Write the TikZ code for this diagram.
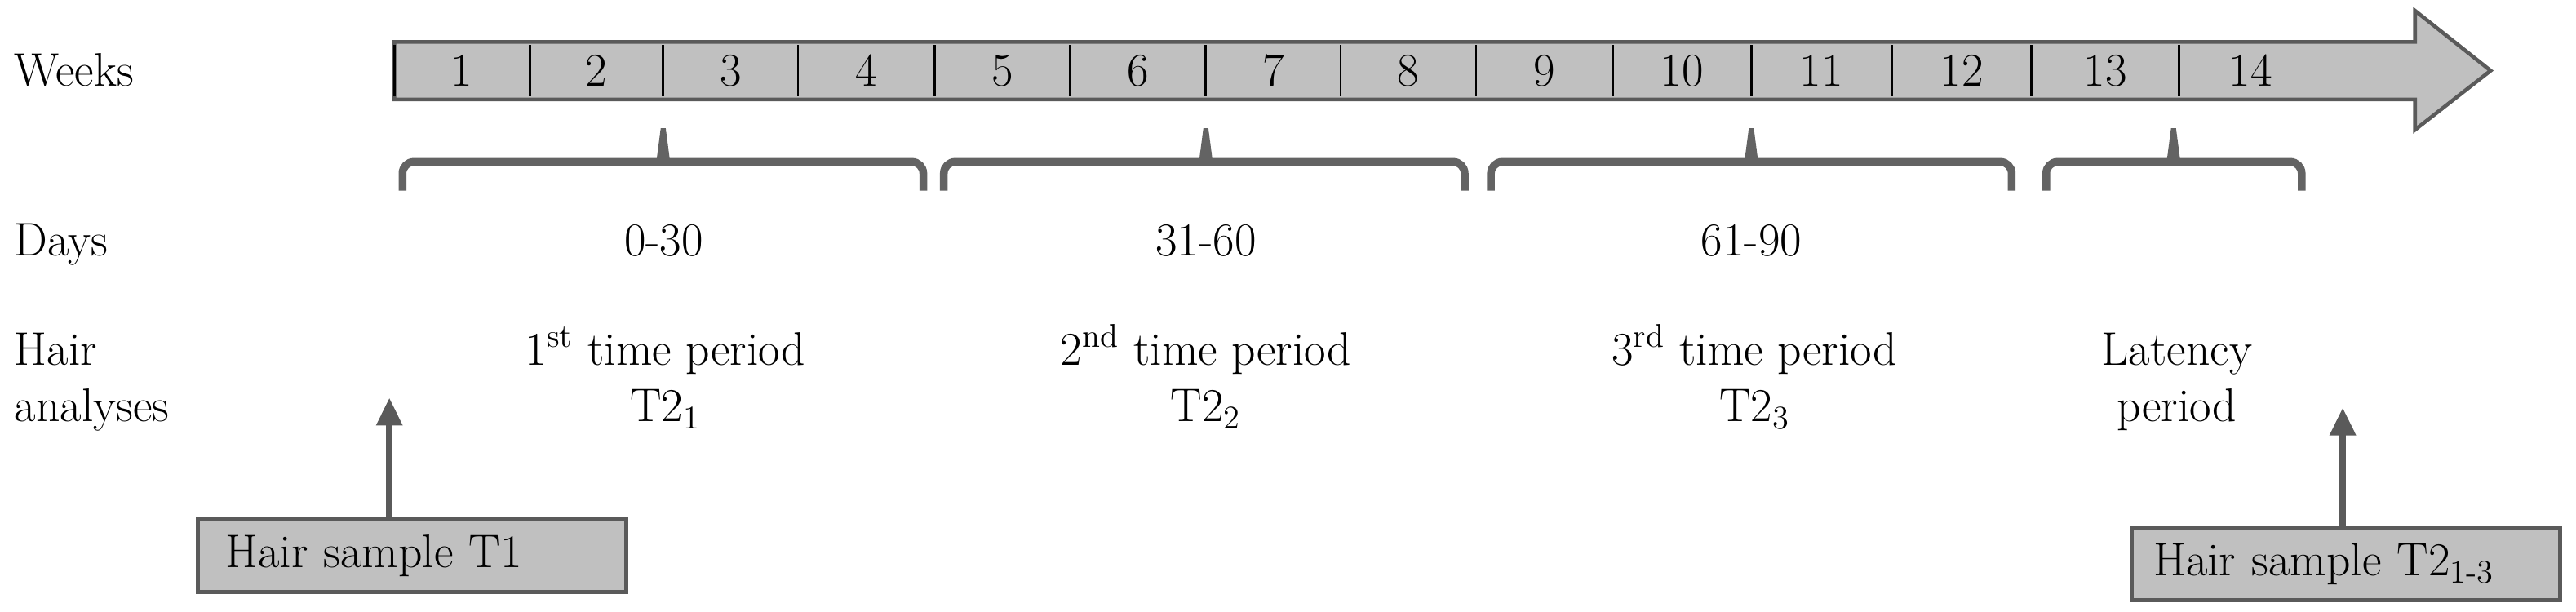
\documentclass[tikz,border=0pt]{standalone}
\usetikzlibrary{arrows.meta}
\definecolor{barfill}{HTML}{C0C0C0}
\definecolor{darkline}{HTML}{5A5A5A}
\definecolor{bracecol}{HTML}{636363}
\tikzset{
    txt/.style={font=\fontsize{16.3}{19.5}\selectfont, inner sep=0pt},
    bracepath/.style={draw=bracecol, line width=0.095cm, rounded corners=4pt},
    samplebox/.style={txt, draw=darkline, fill=barfill, line width=1.4pt, align=left, minimum height=0.88cm, anchor=north west},
    uparrow/.style={draw=darkline, line width=2.4pt, -{Triangle[length=0.34cm, width=0.3cm]}}
}
\begin{document}
\begin{tikzpicture}
        \useasboundingbox (0,0) rectangle (31.36,-7.45);

        % Time line arrow
        \draw[fill=barfill, draw=darkline, line width=1.3pt] (4.80,-0.51) -- (29.40,-0.51) -- (29.40,-0.13) -- (30.32,-0.86)
            -- (29.40,-1.58) -- (29.40,-1.21) -- (4.80,-1.21) -- cycle;
        \foreach \x in {4.80, 6.448, 8.074, 9.714, 11.38, 13.03, 14.68, 16.32, 17.97, 19.63, 21.32, 23.03, 24.73, 26.53} {
            \draw[line width=0.8pt] (\x,-0.55) -- (\x,-1.17);
        }

        % Week numbers
        \foreach \n/\x in {1/5.624, 2/7.261, 3/8.894, 4/10.547, 5/12.205, 6/13.855, 7/15.50, 8/17.145, 9/18.80, 10/20.475, 11/22.175, 12/23.88, 13/25.63, 14/27.40} {
            \node[txt, anchor=base] (w\n) at (\x,-1.044) {\n};
        }

        % Braces
        \foreach \l/\m/\r in {4.90/8.074/11.24, 11.49/14.68/17.83, 18.15/21.32/24.49, 24.91/26.46/28.02} {
            \draw[bracepath] (\l,-2.32) |- (\r,-1.97) -- (\r,-2.32);
            \fill[bracecol] (\m-0.08,-1.94) -- (\m-0.03,-1.56) -- (\m+0.03,-1.56) -- (\m+0.08,-1.94) -- cycle;
        }

        % Row labels
        \node[txt, anchor=base west] (weeks) at (0.17,-1.044) {Weeks};
        \node[txt, anchor=base west] (days) at (0.17,-3.11) {Days};
        \node[txt, anchor=base west, align=left] (hair) at (0.17,-5.13) {Hair\\analyses};

        % Days and periods
        \foreach \x/\d/\name in {8.08/0-30/d1, 14.68/31-60/d2, 21.32/61-90/d3} {
            \node[txt, anchor=base] (\name) at (\x,-3.11) {\d};
        }
        \node[txt, anchor=base, align=center] (p1) at (8.10,-5.13) {1\textsuperscript{st} time period\\T2\textsubscript{1}};
        \node[txt, anchor=base, align=center] (p2) at (14.68,-5.13) {2\textsuperscript{nd} time period\\T2\textsubscript{2}};
        \node[txt, anchor=base, align=center] (p3) at (21.36,-5.13) {3\textsuperscript{rd} time period\\T2\textsubscript{3}};
        \node[txt, anchor=base, align=center] (lat) at (26.50,-5.13) {Latency\\period};

        % Hair samples
        \node[samplebox, text width=4.54cm, inner xsep=0.34cm] (s1) at (2.38,-6.30) {Hair sample T1};
        \node[samplebox, text width=4.69cm, inner xsep=0.26cm] (s2) at (25.93,-6.40) {Hair sample T2\textsubscript{1-3}};
        \coordinate (a1) at (4.74,-4.84);
        \coordinate (a2) at (28.52,-4.96);
        \draw[uparrow] (s1.north -| a1) -- (a1);
        \draw[uparrow] (s2.north -| a2) -- (a2);
\end{tikzpicture}
\end{document}
